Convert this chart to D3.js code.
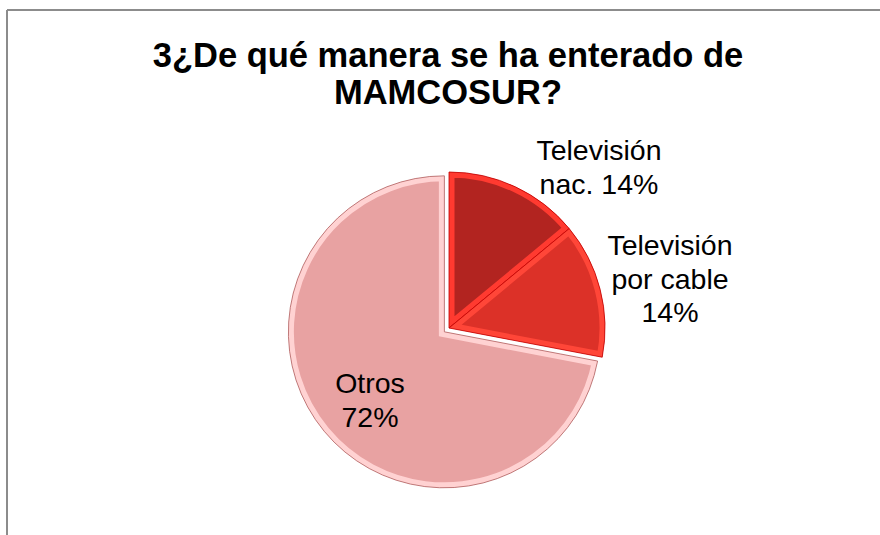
<!DOCTYPE html>
<html>
<head>
<meta charset="utf-8">
<script src="https://cdn.jsdelivr.net/npm/d3@7"></script>
<style>
  body { margin: 0; background: #fff; }
  text { font-family: "Liberation Sans", Arial, sans-serif; }
</style>
</head>
<body>
<script>
var categories = ["Televisión nac.", "Televisión por cable", "Otros"];
var values = [14, 14, 72];
var labelLines = [["Televisión", "nac. 14%"], ["Televisión", "por cable", "14%"], ["Otros", "72%"]];
var titleLines = ["3¿De qué manera se ha enterado de", "MAMCOSUR?"];

var screen = {width: 880, height: 535}

var fills = ["#b22420", "#dc3128", "#e8a2a2"];
var bevels = ["#ff3a30", "#ff4638", "#ffd2d2"];
var outlines = ["#c00000", "#c00000", "#b06060"];
var explode = [0, 0, 6];

var svg = d3.select("body")
            .append("svg")
            .attr("width", screen.width)
            .attr("height", screen.height);

// chart frame (left and top edges only visible)
svg.append("line")
   .attr("x1", 7).attr("y1", 10).attr("x2", screen.width).attr("y2", 10)
   .attr("stroke", "#8c8c8c").attr("stroke-width", 2);
svg.append("line")
   .attr("x1", 7).attr("y1", 10).attr("x2", 7).attr("y2", screen.height)
   .attr("stroke", "#8c8c8c").attr("stroke-width", 2);

svg.append("text")
   .attr("x", 448)
   .attr("y", 67)
   .attr("text-anchor", "middle")
   .attr("font-size", "34.5px")
   .attr("font-weight", "bold")
   .selectAll("tspan")
   .data(titleLines)
   .enter()
   .append("tspan")
   .attr("x", 448)
   .attr("dy", function(d, i) {return i == 0 ? 0 : 37;})
   .text(function(d) {return d;});

var cx = 449, cy = 328, radius = 156;

var pie = d3.pie().sort(null).value(function(d) {return d;});
var arcs = pie(values);

var arc = d3.arc().innerRadius(0).outerRadius(radius);

var slices = svg.append("g")
                .attr("transform", "translate(" + cx + "," + cy + ")")
                .selectAll("g")
                .data(arcs)
                .enter()
                .append("g")
                .attr("transform", function(d, i) {
                  var mid = (d.startAngle + d.endAngle) / 2;
                  return "translate(" + (Math.sin(mid) * explode[i]) + "," + (-Math.cos(mid) * explode[i]) + ")";
                });

slices.append("clipPath")
      .attr("id", function(d, i) {return "clip" + i;})
      .append("path")
      .attr("d", arc);

slices.append("path")
      .attr("d", arc)
      .attr("fill", function(d, i) {return fills[i];})
      .attr("stroke", function(d, i) {return bevels[i];})
      .attr("stroke-width", 11)
      .attr("stroke-linejoin", "miter")
      .attr("clip-path", function(d, i) {return "url(#clip" + i + ")";});

slices.append("path")
      .attr("d", arc)
      .attr("fill", "none")
      .attr("stroke", function(d, i) {return outlines[i];})
      .attr("stroke-width", 1)
      .attr("stroke-opacity", 0.8);

// data labels
var labelPos = [[599, 160], [670, 255], [370, 393]];

svg.append("g")
   .selectAll("text")
   .data(labelLines)
   .enter()
   .append("text")
   .attr("text-anchor", "middle")
   .attr("font-size", "28.5px")
   .attr("fill", "#000")
   .each(function(lines, i) {
     d3.select(this)
       .selectAll("tspan")
       .data(lines)
       .enter()
       .append("tspan")
       .attr("x", labelPos[i][0])
       .attr("y", function(d, j) {return labelPos[i][1] + j * 33.5;})
       .text(function(d) {return d;});
   });
</script>
</body>
</html>
